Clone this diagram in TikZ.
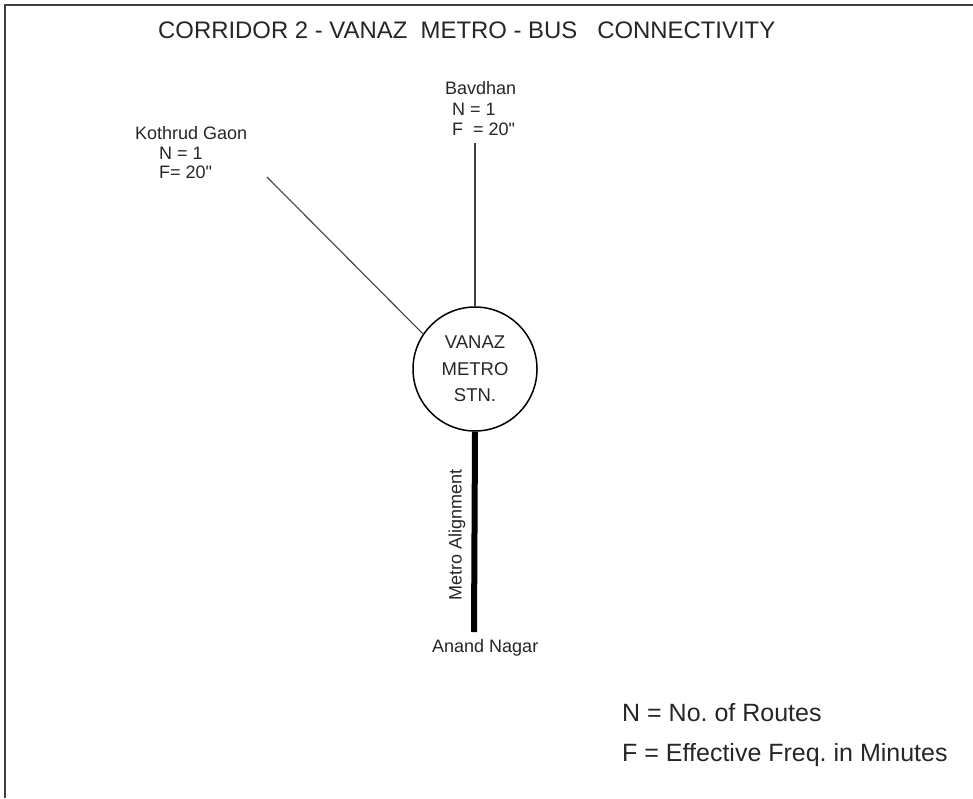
\documentclass[tikz,border=0pt]{standalone}
\usepackage{fontspec}
\setmainfont{Liberation Sans}
\frenchspacing
\begin{document}
\begin{tikzpicture}[x=1pt,y=-1pt,
  lbl/.style={inner sep=0pt,font=\fontsize{18}{20}\selectfont,text=black!85},
  frameline/.style={line width=2pt,draw=black!75},
  busline/.style={line width=1.1pt,draw=black!75},
  metroline/.style={line width=6pt,draw=black}]
\useasboundingbox (0,0) rectangle (973,798);
\draw[frameline] (5,798) -- (5,5) -- (973,5);
\node[lbl,anchor=west,font=\fontsize{23.9}{26}\selectfont] (title) at (158,30)
  {CORRIDOR 2 - VANAZ\ \ METRO - BUS\ \ \ CONNECTIVITY};
% station
\node[circle,draw,line width=1.5pt,minimum size=124pt,inner sep=0pt,align=center,
  font=\fontsize{18.5}{26.5}\selectfont,text=black!85] (stn) at (475,369)
  {VANAZ\\METRO\\STN.};
% Bavdhan
\node[lbl,anchor=west] (bav1) at (445,88) {Bavdhan};
\node[lbl,anchor=west] (bav2) at (452,109) {N = 1};
\node[lbl,anchor=west] (bav3) at (452,129) {F\ \ = 20\textquotedbl};
\coordinate (bavend) at (475,143);
\draw[busline] (bavend) -- (stn.north);
% Kothrud
\node[lbl,anchor=west] (kg1) at (135,133) {Kothrud Gaon};
\node[lbl,anchor=west] (kg2) at (159,153) {N = 1};
\node[lbl,anchor=west] (kg3) at (159,172) {F= 20\textquotedbl};
\coordinate (kgend) at (267,177);
\draw[busline] (kgend) -- (stn.146);
% Metro alignment
\coordinate (anandend) at (474,632);
\draw[metroline] (stn.south) -- (anandend);
\node[lbl,rotate=90] (align) at (457,535) {Metro Alignment};
\node[lbl,anchor=west] (anand) at (432,648) {Anand Nagar};
% legend
\node[lbl,anchor=west,font=\fontsize{25}{27}\selectfont] (legN) at (622,713) {N = No. of Routes};
\node[lbl,anchor=west,font=\fontsize{25}{27}\selectfont] (legF) at (622,755) {F = Effective Freq. in Minutes};
\end{tikzpicture}
\end{document}
